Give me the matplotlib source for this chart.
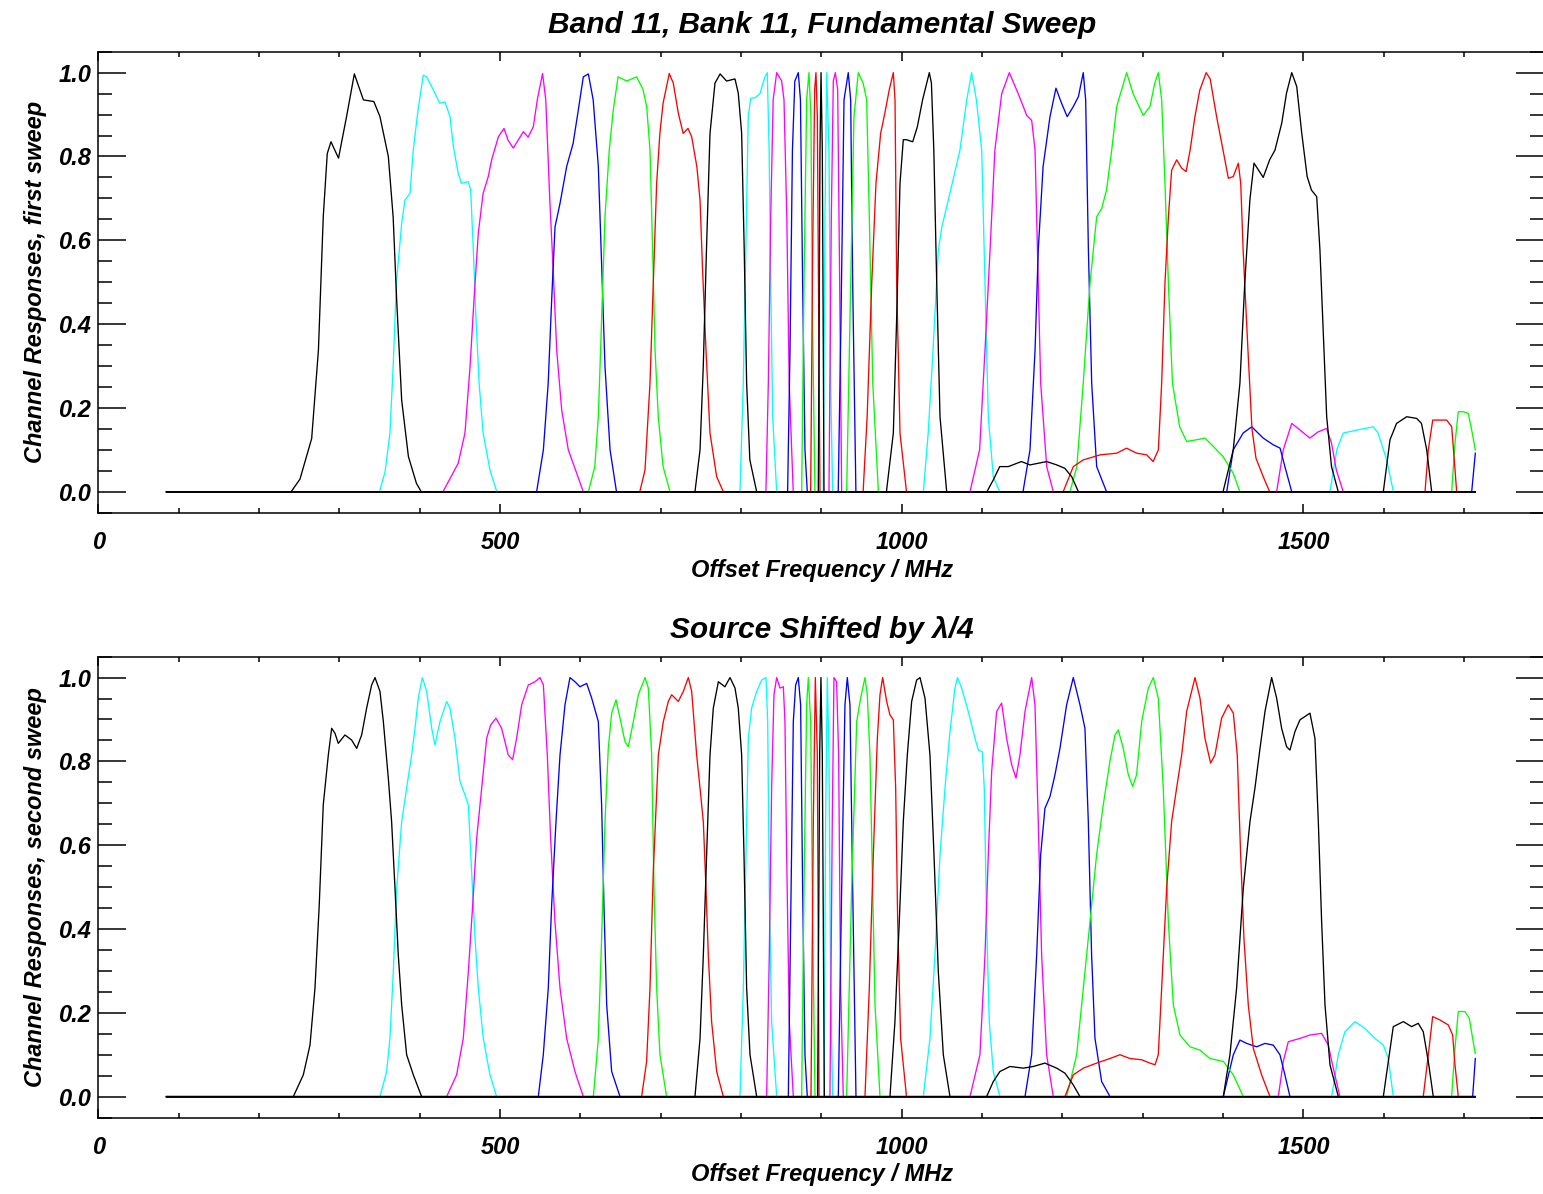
import numpy as np
import matplotlib
matplotlib.use("Agg")
import matplotlib.pyplot as plt
from matplotlib.ticker import MultipleLocator, FormatStrFormatter

# ---------------- data ----------------
F_LO = 85.0     # start of the sweep (MHz)
F_HI = 1714.0   # end of the sweep (MHz)

channel_colors = ['#000000', '#00FFFF', '#FF00FF', '#0000FF', '#00FF00', '#FF0000'] * 4 + ['#000000']

top_freq = [
    [240, 251, 265.6, 274, 280, 285, 289.6, 299, 309, 318.7, 330, 343, 350.6, 361, 367, 371.4, 377.6, 386, 396, 402],
    [350, 357, 363, 367, 371, 377.6, 381.7, 388, 392, 398, 404.5, 408.7, 417, 425, 431.5, 437.8, 442, 448, 452, 460.5, 463.5, 466.8, 470, 474, 479, 487.5, 496],
    [429, 448, 456.4, 462.7, 467.6, 473, 479, 485.4, 489.6, 498, 505, 510, 516.6, 529, 535, 541.5, 546.4, 553, 557, 562, 566, 570.6, 576.8, 585, 595.5, 603.7],
    [545.6, 554, 560, 564.3, 568.5, 574.7, 583, 591, 597.5, 603.7, 610, 616, 622.4, 626.6, 630.7, 637, 645],
    [610, 618, 622.4, 626.6, 630.7, 636, 641, 647, 657.7, 670, 678, 682.6, 686.7, 690, 693, 697, 703, 711.6],
    [674, 680.5, 686.7, 690.8, 695, 699, 703, 710.7, 715.7, 722, 728, 734, 738.6, 745, 749, 752, 756.4, 761.4, 769.7, 778],
    [742.7, 749, 753, 757, 761.4, 767.6, 774, 782, 792.5, 796.6, 800.8, 804, 807, 811, 819.5],
    [798.7, 802.8, 806, 809, 812, 817.4, 823.6, 829.8, 832.7, 835, 837, 839.4, 844.4],
    [831, 834, 837, 840, 844.4, 850.6, 853.5, 857, 860, 865],
    [858, 861, 864, 867, 871.3, 874, 876.7, 879.6, 882.5],
    [875.5, 878.4, 881.7, 884.6, 887, 889, 892],
    [886.7, 889.2, 891.7, 893.3, 895, 896.7, 898.3],
    [896.2, 898.3, 899.6, 901.2, 903.3],
    [902.4, 904.5, 906.6, 909.5, 911.6, 914],
    [909.5, 912.4, 914.9, 917.4, 920.3, 922.4, 925.3],
    [921, 924.5, 928.2, 933.5, 936.5, 939, 943, 1709.5, 1714],
    [931.5, 935.7, 940.6, 946, 952, 956.4, 959.7, 964, 971,
     1684.6, 1688.7, 1692.8, 1699, 1705.3, 1709.5, 1714],
    [952, 957, 962.7, 968, 973.8, 979, 984.6, 989.6, 991.7, 993.8, 997.9, 1006,
     1651.4, 1655.5, 1661, 1670, 1678.4, 1684.6, 1687.5, 1690.8],
    [981, 989.6, 993.8, 997.9, 1002, 1006, 1013.7, 1019.5, 1026, 1034.4, 1037, 1040, 1043.6, 1047.7, 1056,
     1599.5, 1607.8, 1616, 1628.6, 1641, 1647, 1653.5, 1659.7],
    [1027, 1033, 1039, 1045.6, 1050, 1060, 1072.5, 1081, 1087, 1093, 1099.6, 1103.7, 1107.8, 1114, 1122,
     1533, 1541.6, 1549.6, 1566.4, 1587, 1593, 1603.7, 1612],
    [1085, 1097, 1103.7, 1110, 1116, 1124.5, 1134, 1145, 1155.6, 1161.8, 1166, 1169, 1173, 1180.5, 1188.7,
     1466.7, 1475, 1485.5, 1496, 1508, 1518.4, 1529, 1535, 1541, 1549.6],
    [1151, 1159.7, 1166, 1170, 1176, 1184.6, 1192, 1199, 1206, 1213.6, 1220, 1226, 1229, 1232.4, 1236.5, 1242.7, 1255,
     1404.6, 1412.7, 1425, 1435.7, 1450, 1462.5, 1471, 1477, 1485.5],
    [1209.5, 1218, 1226, 1234.4, 1242.7, 1249, 1255, 1261.4, 1267.6, 1280, 1288, 1300.7, 1309, 1315, 1319.5, 1323.6,
     1327.7, 1332, 1337, 1346, 1354.7, 1367, 1377.5, 1388, 1400, 1412.7, 1421],
    [1201, 1213.6, 1226, 1247, 1267.6, 1280, 1292.5, 1305, 1313, 1319.5, 1323.6, 1327.7, 1332, 1336, 1342.3, 1348.5,
     1354, 1359, 1365, 1371, 1379, 1384, 1392, 1400, 1406.6, 1412.7, 1419, 1422, 1425, 1431, 1436, 1441, 1450, 1458],
    [1106, 1114, 1122, 1132.7, 1149, 1159.7, 1170, 1180.5, 1193, 1203, 1211.6, 1220,
     1400, 1412.7, 1421, 1427, 1433.4, 1438.5, 1444, 1450, 1458, 1464.6, 1473, 1479, 1485.5, 1491.7, 1498, 1504.7,
     1510, 1516.6, 1520.6, 1524.8, 1529, 1535, 1543.4],
]

top_resp = [
    [0.0, 0.03, 0.127, 0.338, 0.656, 0.807, 0.835, 0.796, 0.895, 0.997, 0.935, 0.931, 0.895, 0.8, 0.656, 0.457, 0.219, 0.084, 0.02, 0.0],
    [0.0, 0.048, 0.14, 0.298, 0.497, 0.64, 0.696, 0.712, 0.815, 0.911, 0.994, 0.99, 0.959, 0.927, 0.93, 0.895, 0.823, 0.76, 0.736, 0.74, 0.72, 0.577, 0.418, 0.259, 0.14, 0.052, 0.0],
    [0.0, 0.068, 0.14, 0.298, 0.457, 0.617, 0.712, 0.752, 0.792, 0.847, 0.867, 0.839, 0.82, 0.859, 0.846, 0.871, 0.935, 0.998, 0.935, 0.696, 0.537, 0.338, 0.195, 0.1, 0.044, 0.0],
    [0.0, 0.1, 0.259, 0.457, 0.632, 0.688, 0.776, 0.831, 0.911, 0.99, 0.997, 0.935, 0.776, 0.537, 0.298, 0.1, 0.0],
    [0.0, 0.06, 0.179, 0.418, 0.656, 0.815, 0.911, 0.99, 0.98, 0.99, 0.96, 0.919, 0.815, 0.577, 0.338, 0.179, 0.06, 0.0],
    [0.0, 0.052, 0.259, 0.497, 0.736, 0.855, 0.927, 0.998, 0.975, 0.903, 0.855, 0.867, 0.847, 0.776, 0.696, 0.537, 0.338, 0.14, 0.036, 0.0],
    [0.0, 0.1, 0.298, 0.577, 0.855, 0.975, 0.997, 0.98, 0.985, 0.951, 0.855, 0.577, 0.259, 0.076, 0.0],
    [0.0, 0.259, 0.577, 0.895, 0.939, 0.94, 0.95, 0.99, 1.0, 0.815, 0.497, 0.179, 0.0],
    [0.0, 0.259, 0.656, 0.935, 1.0, 0.98, 0.935, 0.656, 0.259, 0.0],
    [0.0, 0.338, 0.815, 0.98, 1.0, 0.935, 0.497, 0.1, 0.0],
    [0.0, 0.497, 0.935, 1.0, 0.895, 0.418, 0.0],
    [0.0, 0.577, 0.96, 1.0, 0.895, 0.418, 0.0],
    [0.0, 0.815, 1.0, 0.815, 0.0],
    [0.0, 0.656, 1.0, 0.815, 0.259, 0.0],
    [0.0, 0.656, 0.98, 1.0, 0.96, 0.577, 0.0],
    [0.0, 0.418, 0.935, 1.0, 0.935, 0.497, 0.0, 0.0, 0.092],
    [0.0, 0.418, 0.895, 1.0, 0.975, 0.935, 0.656, 0.259, 0.0,
     0.0, 0.116, 0.191, 0.191, 0.187, 0.147, 0.1],
    [0.0, 0.179, 0.497, 0.736, 0.855, 0.903, 0.96, 1.0, 0.935, 0.497, 0.14, 0.0,
     0.0, 0.1, 0.171, 0.171, 0.171, 0.155, 0.084, 0.0],
    [0.0, 0.14, 0.418, 0.736, 0.84, 0.84, 0.835, 0.871, 0.935, 1.0, 0.975, 0.815, 0.497, 0.179, 0.0,
     0.0, 0.124, 0.163, 0.179, 0.175, 0.163, 0.1, 0.0],
    [0.0, 0.14, 0.338, 0.577, 0.632, 0.712, 0.815, 0.935, 1.0, 0.935, 0.815, 0.497, 0.179, 0.036, 0.0,
     0.0, 0.1, 0.14, 0.147, 0.155, 0.14, 0.076, 0.0],
    [0.0, 0.1, 0.338, 0.577, 0.815, 0.95, 1.0, 0.95, 0.898, 0.886, 0.815, 0.577, 0.259, 0.06, 0.0,
     0.0, 0.1, 0.163, 0.147, 0.128, 0.143, 0.151, 0.116, 0.052, 0.0],
    [0.0, 0.1, 0.338, 0.577, 0.776, 0.895, 0.963, 0.927, 0.895, 0.919, 0.943, 1.0, 0.935, 0.577, 0.259, 0.06, 0.0,
     0.0, 0.1, 0.14, 0.155, 0.128, 0.112, 0.104, 0.06, 0.0],
    [0.0, 0.06, 0.259, 0.497, 0.656, 0.676, 0.72, 0.815, 0.919, 1.0, 0.95, 0.898, 0.919, 0.975, 1.0, 0.935,
     0.736, 0.497, 0.259, 0.155, 0.12, 0.124, 0.128, 0.108, 0.084, 0.044, 0.0],
    [0.0, 0.06, 0.076, 0.088, 0.092, 0.104, 0.092, 0.088, 0.072, 0.1, 0.259, 0.497, 0.656, 0.767, 0.792, 0.772,
     0.764, 0.815, 0.895, 0.958, 1.0, 0.985, 0.895, 0.815, 0.748, 0.752, 0.784, 0.736, 0.577, 0.338, 0.15, 0.08, 0.036, 0.0],
    [0.0, 0.028, 0.06, 0.06, 0.072, 0.064, 0.068, 0.072, 0.064, 0.056, 0.036, 0.0,
     0.0, 0.1, 0.259, 0.497, 0.696, 0.784, 0.768, 0.75, 0.792, 0.815, 0.879, 0.951, 1.0, 0.967, 0.855, 0.752,
     0.72, 0.704, 0.577, 0.378, 0.179, 0.06, 0.0],
]

bottom_freq = [
    [242.7, 255.2, 263.5, 269.7, 275, 280, 286.3, 290.5, 294.6, 298.7, 307, 315.3, 321.6, 327.8, 334, 340.2, 344.4, 350.6, 354.8, 361, 365.1, 369.3, 373.4, 377.6, 383.8, 392.1, 402.5],
    [350.6, 358.9, 363, 367.2, 371.4, 377.6, 383.8, 390, 394.2, 398.3, 403.3, 408.7, 415, 419, 425.3, 433.6, 437.7, 444, 450.2, 456.4, 460.6, 464.7, 468.9, 473, 479.2, 487.5, 495.8],
    [433.6, 446, 454.3, 460.6, 466, 471, 477.2, 483.4, 488.4, 495, 502, 510.3, 515.7, 520.7, 527, 535.2, 543.5, 549.8, 554, 558.9, 563, 568.4, 574.7, 583, 593.3, 603.7],
    [547.7, 553.9, 560.1, 564.3, 569.7, 574.7, 580.9, 587.1, 593.3, 599.5, 607.9, 614.1, 622.4, 626.5, 629.4, 632.8, 639, 649.4],
    [616.2, 622.4, 626.5, 630.7, 634.8, 639, 644.4, 649.4, 655.6, 659.7, 666, 672.2, 680.5, 684.6, 688.8, 691.7, 695, 699.1, 707.4],
    [676.3, 682.5, 686.7, 690.8, 697.1, 703.3, 709.5, 713.7, 722, 728.2, 734.4, 738.6, 744.8, 749, 753.1, 756.4, 759.3, 763.4, 769.7, 778],
    [742.7, 749, 753.1, 757.2, 761.4, 765.5, 771.8, 780, 786.3, 792.5, 796.6, 800.8, 803.7, 807, 811.2, 819.5],
    [798.7, 802.9, 806.2, 809.1, 813.2, 819.5, 825.7, 831.1, 833.2, 835.2, 838.1, 844.4],
    [831.9, 835.2, 838.1, 841, 844.4, 848.5, 852.7, 854.7, 856.8, 860.1, 865.1],
    [858.9, 861.8, 865.1, 868, 871.3, 874.2, 876.7, 879.6, 882.5],
    [875.5, 878.4, 881.7, 883.8, 886.7, 889.2, 892.1],
    [887.1, 890, 892.5, 895, 897.1],
    [895.4, 897.9, 899.5, 901.2, 903.7],
    [903.3, 905.3, 907.4, 909.5, 911.6, 914.1],
    [910.7, 913.6, 915.7, 919, 921.5, 924, 927.3],
    [921.1, 925.3, 929.4, 932.3, 935.6, 939, 943.1, 1710.7, 1714],
    [931.5, 937.7, 944, 948.9, 954.3, 957.2, 960.5, 963.9, 966.8, 973,
     1684.5, 1688.7, 1692.8, 1701.1, 1706.5, 1710.7, 1714],
    [954.3, 959.7, 964.7, 969.7, 973, 976.3, 981.3, 985.4, 989.6, 992.5, 995, 998.7, 1006,
     1649.2, 1655.5, 1660.9, 1670, 1680.4, 1685.8, 1688.7, 1692.8],
    [985.4, 991.6, 997, 1002, 1007, 1012.4, 1018.6, 1022.8, 1029, 1035.2, 1040.2, 1045.6, 1051.8, 1060.1,
     1599.5, 1606.9, 1611.9, 1624.4, 1634.7, 1643, 1649.2, 1655.5, 1661.7],
    [1026.9, 1035.2, 1041.4, 1047.7, 1053.9, 1060.1, 1066.3, 1069.5, 1074.6, 1082.9, 1091.2, 1095.4, 1100.3, 1102.8, 1105.7, 1109, 1114, 1122.3,
     1535.2, 1543.4, 1551.8, 1564.2, 1576.6, 1589.1, 1599.5, 1605.7, 1611.9],
    [1085, 1097.4, 1103.7, 1107.8, 1112, 1118.2, 1124.4, 1130.6, 1136.9, 1142.3, 1147.2, 1153.5, 1161.8, 1165.9, 1170, 1174.2, 1180.4, 1188.7,
     1468.8, 1475, 1481.2, 1495.7, 1508.2, 1522.7, 1531, 1537.2, 1545.5],
    [1153.5, 1161.8, 1168, 1173, 1178.3, 1184.6, 1190.8, 1197, 1205.3, 1213.6, 1221.9, 1228.1, 1232.3, 1236.4, 1240.6, 1248.9, 1259.3,
     1400.3, 1412.8, 1421, 1429.4, 1441.8, 1452.2, 1462.5, 1470.8, 1477, 1483.3],
    [1205.3, 1217.8, 1226.1, 1234.4, 1242.6, 1250.9, 1259.2, 1265.5, 1269.6, 1275.8, 1282.1, 1287.5, 1292.4, 1298.7, 1307, 1313.2, 1319.4,
     1325.6, 1331.9, 1338.1, 1346.4, 1358.8, 1371.3, 1383.7, 1400.3, 1412.8, 1425.2],
    [1203.2, 1213.6, 1226.1, 1242.6, 1259.2, 1271.7, 1284.1, 1298.7, 1309, 1315.3, 1319.4, 1323.6, 1329.8, 1336, 1342.2, 1348.5, 1354.7,
     1365.1, 1371.3, 1377.5, 1384.5, 1389.9, 1398.2, 1406.5, 1412.8, 1417.7, 1421.9, 1426, 1431.4, 1437.7, 1448, 1458.4],
    [1105.7, 1114, 1122.3, 1134.8, 1151.4, 1163.8, 1178.3, 1192.9, 1203.2, 1213.6, 1221.9,
     1400.3, 1408.6, 1416.9, 1425.2, 1433.5, 1439.7, 1446, 1452.2, 1460.5, 1466.7, 1472.9, 1479.1, 1483.3, 1489.5,
     1495.7, 1508.2, 1514.4, 1518.6, 1522.7, 1526.9, 1533.1, 1543.5],
]

bottom_resp = [
    [0.0, 0.052, 0.123, 0.259, 0.457, 0.696, 0.815, 0.879, 0.867, 0.843, 0.863, 0.851, 0.831, 0.863, 0.927, 0.982, 1.0, 0.967, 0.895, 0.76, 0.656, 0.497, 0.338, 0.219, 0.1, 0.052, 0.0],
    [0.0, 0.06, 0.139, 0.298, 0.497, 0.656, 0.736, 0.815, 0.879, 0.951, 1.0, 0.967, 0.879, 0.839, 0.895, 0.943, 0.927, 0.855, 0.752, 0.72, 0.696, 0.537, 0.378, 0.259, 0.139, 0.052, 0.0],
    [0.0, 0.052, 0.139, 0.298, 0.457, 0.617, 0.736, 0.855, 0.887, 0.903, 0.879, 0.815, 0.804, 0.855, 0.935, 0.982, 0.99, 1.0, 0.982, 0.815, 0.617, 0.418, 0.259, 0.139, 0.06, 0.0],
    [0.0, 0.1, 0.259, 0.457, 0.656, 0.815, 0.935, 1.0, 0.99, 0.978, 0.986, 0.951, 0.895, 0.696, 0.457, 0.219, 0.06, 0.0],
    [0.0, 0.139, 0.378, 0.656, 0.831, 0.915, 0.947, 0.903, 0.847, 0.835, 0.895, 0.959, 1.0, 0.975, 0.815, 0.497, 0.259, 0.1, 0.0],
    [0.0, 0.084, 0.259, 0.537, 0.815, 0.895, 0.943, 0.959, 0.943, 0.967, 1.0, 0.967, 0.815, 0.736, 0.656, 0.497, 0.338, 0.179, 0.06, 0.0],
    [0.0, 0.139, 0.338, 0.577, 0.815, 0.927, 0.99, 0.978, 1.0, 0.975, 0.927, 0.815, 0.577, 0.259, 0.1, 0.0],
    [0.0, 0.259, 0.577, 0.855, 0.927, 0.967, 0.994, 1.0, 0.895, 0.497, 0.179, 0.0],
    [0.0, 0.338, 0.736, 0.959, 1.0, 0.975, 0.978, 0.895, 0.577, 0.179, 0.0],
    [0.0, 0.418, 0.895, 0.982, 1.0, 0.935, 0.497, 0.1, 0.0],
    [0.0, 0.497, 0.935, 1.0, 0.895, 0.418, 0.0],
    [0.0, 0.656, 1.0, 0.815, 0.0],
    [0.0, 0.815, 1.0, 0.815, 0.0],
    [0.0, 0.656, 1.0, 0.815, 0.259, 0.0],
    [0.0, 0.656, 1.0, 0.99, 0.815, 0.259, 0.0],
    [0.0, 0.497, 0.935, 1.0, 0.935, 0.497, 0.0, 0.0, 0.091],
    [0.0, 0.497, 0.895, 0.951, 1.0, 0.959, 0.815, 0.497, 0.219, 0.0,
     0.0, 0.115, 0.203, 0.203, 0.187, 0.139, 0.103],
    [0.0, 0.259, 0.577, 0.855, 0.959, 1.0, 0.943, 0.911, 0.899, 0.736, 0.418, 0.139, 0.0,
     0.0, 0.1, 0.191, 0.183, 0.171, 0.147, 0.076, 0.0],
    [0.0, 0.179, 0.418, 0.656, 0.815, 0.943, 0.994, 1.0, 0.951, 0.815, 0.577, 0.298, 0.1, 0.0,
     0.0, 0.1, 0.167, 0.179, 0.167, 0.175, 0.155, 0.084, 0.0],
    [0.0, 0.139, 0.338, 0.577, 0.736, 0.871, 0.975, 1.0, 0.975, 0.919, 0.855, 0.827, 0.823, 0.736, 0.418, 0.179, 0.06, 0.0,
     0.0, 0.1, 0.155, 0.179, 0.163, 0.139, 0.123, 0.091, 0.0],
    [0.0, 0.1, 0.338, 0.577, 0.776, 0.919, 0.939, 0.855, 0.792, 0.76, 0.815, 0.919, 1.0, 0.935, 0.656, 0.338, 0.1, 0.0,
     0.0, 0.084, 0.131, 0.139, 0.147, 0.151, 0.123, 0.068, 0.0],
    [0.0, 0.1, 0.338, 0.577, 0.688, 0.716, 0.768, 0.831, 0.935, 1.0, 0.935, 0.879, 0.656, 0.338, 0.139, 0.036, 0.0,
     0.0, 0.1, 0.135, 0.127, 0.119, 0.127, 0.123, 0.1, 0.052, 0.0],
    [0.0, 0.1, 0.259, 0.418, 0.577, 0.696, 0.8, 0.863, 0.875, 0.831, 0.768, 0.74, 0.768, 0.895, 0.975, 1.0, 0.951,
     0.736, 0.418, 0.219, 0.147, 0.119, 0.111, 0.091, 0.084, 0.052, 0.0],
    [0.0, 0.052, 0.068, 0.08, 0.091, 0.1, 0.091, 0.088, 0.08, 0.076, 0.1, 0.259, 0.497, 0.656, 0.736, 0.815, 0.919,
     1.0, 0.951, 0.855, 0.796, 0.815, 0.903, 0.935, 0.915, 0.815, 0.577, 0.378, 0.219, 0.115, 0.052, 0.0],
    [0.0, 0.036, 0.06, 0.072, 0.068, 0.072, 0.08, 0.068, 0.056, 0.028, 0.0,
     0.0, 0.1, 0.259, 0.497, 0.656, 0.736, 0.831, 0.919, 1.0, 0.951, 0.879, 0.835, 0.827, 0.871,
     0.899, 0.915, 0.855, 0.656, 0.418, 0.219, 0.076, 0.0],
]

titles = ["Band 11, Bank 11, Fundamental Sweep", "Source Shifted by \u03bb/4"]
ylabels = ["Channel Responses, first sweep", "Channel Responses, second sweep"]
xlabel = "Offset Frequency / MHz"
x_major = [0, 500, 1000, 1500]
y_major = [0.0, 0.2, 0.4, 0.6, 0.8, 1.0]

# ---------------- figure ----------------
plt.rcParams['font.family'] = ['Liberation Sans', 'DejaVu Sans']
plt.rcParams['font.weight'] = 'bold'
plt.rcParams['font.style'] = 'italic'

W_PX, H_PX = 1543, 1194
fig = plt.figure(figsize=(W_PX / 100, H_PX / 100), dpi=100)

left = 98.3 / W_PX
width = 1446.1 / W_PX
height = 461.0 / H_PX
ax_top = fig.add_axes([left, 1 - 512.7 / H_PX, width, height])
ax_bot = fig.add_axes([left, 1 - 1117.6 / H_PX, width, height])

TICK_FS = 17
LABEL_FS = 17
TITLE_FS = 21.5


def draw_panel(ax, freqs, resps, title, ylabel, title_y_px, xlabel_y_px):
    # coloured channels first, black channels last (black noise floor on top)
    order = [i for i, c in enumerate(channel_colors) if c != '#000000'] + \
            [i for i, c in enumerate(channel_colors) if c == '#000000']
    for i in order:
        f, r, c = freqs[i], resps[i], channel_colors[i]
        x = [F_LO] + list(f)
        y = [0.0] + list(r)
        if f[-1] < F_HI:
            x.append(F_HI)
            y.append(0.0)
        ax.plot(x, y, color=c, lw=0.95, solid_joinstyle='round')
    ax.set_xlim(0, 1800)
    ax.set_ylim(-0.05, 1.05)
    ax.set_xticks(x_major)
    ax.set_yticks(y_major)
    ax.xaxis.set_minor_locator(MultipleLocator(100))
    ax.yaxis.set_minor_locator(MultipleLocator(0.05))
    ax.yaxis.set_major_formatter(FormatStrFormatter('%.1f'))
    ax.tick_params(axis='both', which='both', direction='in', top=True, right=True,
                   width=1.1, labelsize=TICK_FS)
    ax.tick_params(axis='x', which='major', length=6.5, pad=13)
    ax.tick_params(axis='x', which='minor', length=3.6)
    ax.tick_params(axis='y', which='major', length=20, pad=5)
    ax.tick_params(axis='y', which='minor', length=10)
    for lab in ax.get_xticklabels() + ax.get_yticklabels():
        lab.set_fontweight('bold')
        lab.set_fontstyle('italic')
    for sp in ax.spines.values():
        sp.set_linewidth(1.1)
    fig.text(822 / W_PX, 1 - title_y_px / H_PX, title, ha='center', va='center',
             fontsize=TITLE_FS, fontweight='bold', fontstyle='italic')
    fig.text(822 / W_PX, 1 - xlabel_y_px / H_PX, xlabel, ha='center', va='center',
             fontsize=LABEL_FS, fontweight='bold', fontstyle='italic')
    ax.set_ylabel(ylabel, fontsize=LABEL_FS, fontweight='bold', fontstyle='italic', labelpad=8)


draw_panel(ax_top, top_freq, top_resp, titles[0], ylabels[0], 25, 570)
draw_panel(ax_bot, bottom_freq, bottom_resp, titles[1], ylabels[1], 630, 1175)

fig.savefig("out.png", dpi=100)
